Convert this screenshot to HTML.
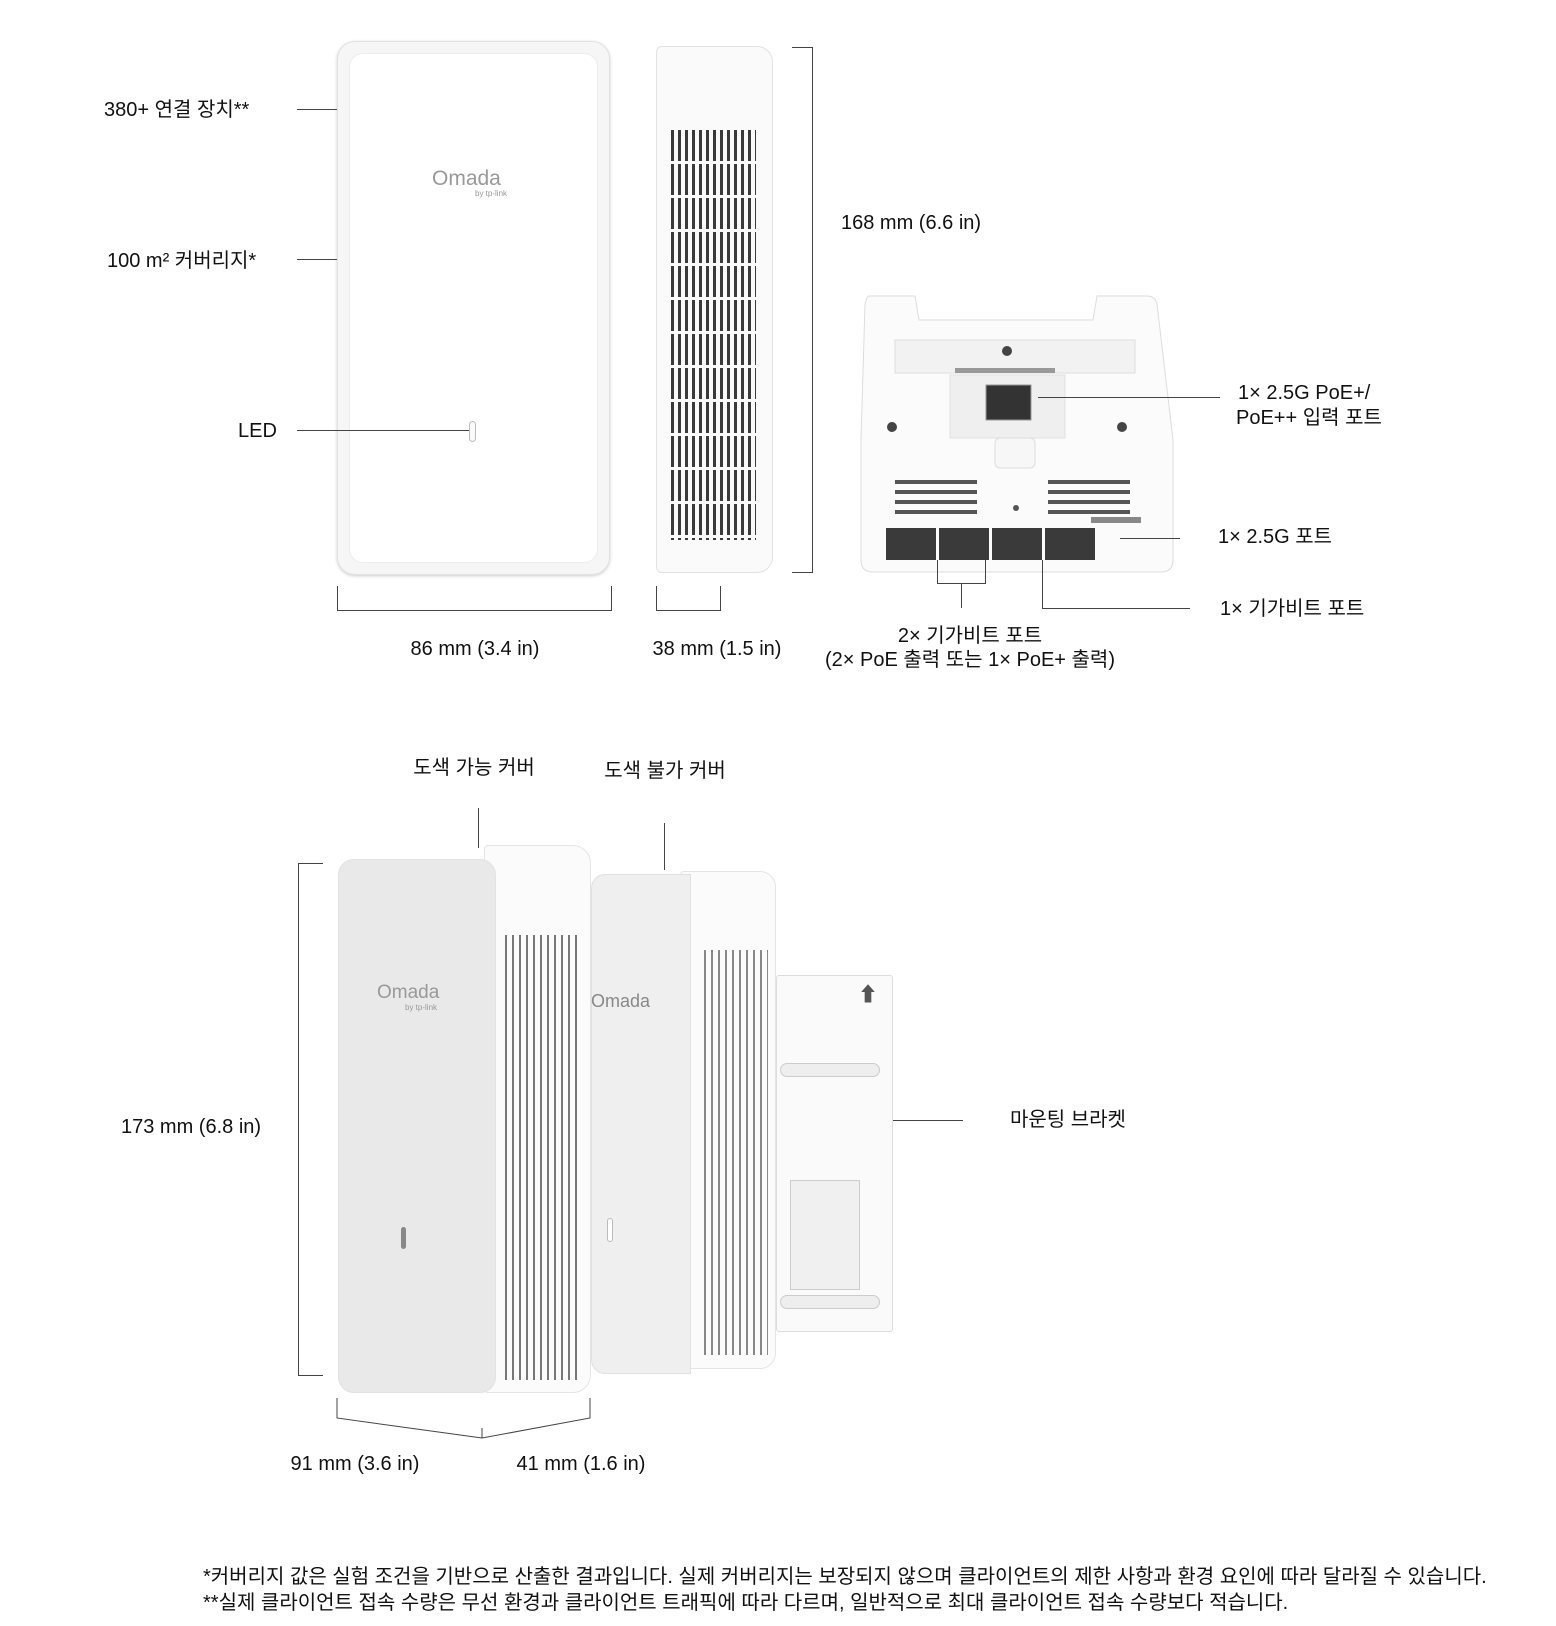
<!DOCTYPE html>
<html><head><meta charset="utf-8">
<style>
body{margin:0;width:1556px;height:1626px;background:#fff;position:relative;overflow:hidden;font-family:"Liberation Sans","Noto Sans CJK KR",sans-serif;color:#111}
.t{position:absolute;font-size:20px;white-space:nowrap;line-height:1}
.c{transform:translateX(-50%);text-align:center}
.l{position:absolute;background:#444}
.a{position:absolute;box-sizing:border-box}
</style></head><body>

<!-- top front device -->
<div class="a" style="left:337px;top:41px;width:273px;height:534px;border-radius:18px;background:#f6f6f6;border:1px solid #e2e2e2;box-shadow:0 1px 3px #ccc"></div>
<div class="a" style="left:349px;top:53px;width:249px;height:510px;border-radius:14px;background:#fff;border:1px solid #ececec"></div>
<div class="t" style="left:432px;top:168px;font-size:21px;color:#999">Omada</div>
<div class="t" style="left:475px;top:190px;font-size:8px;color:#999">by tp-link</div>
<div class="a" style="left:469px;top:421px;width:7px;height:21px;border-radius:4px;border:1px solid #bbb;background:#fafafa"></div>

<!-- side device -->
<div class="a" style="left:656px;top:46px;width:117px;height:527px;border-radius:6px 16px 16px 6px;background:#fafafa;border:1px solid #e2e2e2"></div>
<div class="a" style="left:671px;top:130px;width:85px;height:410px;background:repeating-linear-gradient(90deg,#3a3a3a 0 3px,#fafafa 3px 7px);"></div>
<div class="a" style="left:671px;top:130px;width:85px;height:410px;background:repeating-linear-gradient(180deg,transparent 0 31px,#fafafa 31px 34px);"></div>

<!-- dims top -->
<div class="l" style="left:812px;top:47px;width:1px;height:526px"></div>
<div class="l" style="left:792px;top:47px;width:20px;height:1px"></div>
<div class="l" style="left:792px;top:572px;width:20px;height:1px"></div>
<div class="t" style="left:841px;top:213px">168 mm (6.6 in)</div>
<div class="l" style="left:337px;top:610px;width:275px;height:1px"></div>
<div class="l" style="left:337px;top:586px;width:1px;height:24px"></div>
<div class="l" style="left:611px;top:586px;width:1px;height:24px"></div>
<div class="l" style="left:656px;top:610px;width:65px;height:1px"></div>
<div class="l" style="left:656px;top:586px;width:1px;height:24px"></div>
<div class="l" style="left:720px;top:586px;width:1px;height:24px"></div>
<div class="t c" style="left:475px;top:639px">86 mm (3.4 in)</div>
<div class="t c" style="left:717px;top:639px">38 mm (1.5 in)</div>

<!-- left labels -->
<div class="t" style="left:104px;top:100px">380+ 연결 장치**</div>
<div class="l" style="left:297px;top:109px;width:40px;height:1px"></div>
<div class="t" style="left:107px;top:251px">100 m² 커버리지*</div>
<div class="l" style="left:297px;top:259px;width:40px;height:1px"></div>
<div class="t" style="left:238px;top:421px">LED</div>
<div class="l" style="left:297px;top:430px;width:172px;height:1px"></div>

<!-- bottom/port view -->
<svg class="a" style="left:855px;top:290px" width="325" height="290">
<path d="M14 6 H60 L64 30 H238 L242 6 H292 Q300 6 302 14 L318 150 V270 Q318 282 306 282 H18 Q6 282 6 270 V150 L10 14 Q12 6 14 6Z" fill="#fbfbfb" stroke="#ddd"/>
<rect x="40" y="50" width="240" height="33" fill="#f2f2f2" stroke="#ddd"/>
<rect x="100" y="78" width="100" height="5" fill="#999"/>
<rect x="95" y="85" width="115" height="63" fill="#efefef" stroke="#e0e0e0"/>
<rect x="131" y="95" width="45" height="35" fill="#333" stroke="#999"/>
<circle cx="152" cy="61" r="5" fill="#444"/><circle cx="37" cy="137" r="5" fill="#444"/><circle cx="267" cy="137" r="5" fill="#444"/>
<rect x="140" y="148" width="40" height="30" rx="5" fill="#f7f7f7" stroke="#ddd"/>
<g fill="#555"><rect x="40" y="190" width="82" height="4"/><rect x="40" y="200" width="82" height="4"/><rect x="40" y="210" width="82" height="4"/><rect x="40" y="220" width="82" height="4"/>
<rect x="193" y="190" width="82" height="4"/><rect x="193" y="200" width="82" height="4"/><rect x="193" y="210" width="82" height="4"/><rect x="193" y="220" width="82" height="4"/></g>
<rect x="236" y="227" width="50" height="6" fill="#888"/>
<circle cx="161" cy="218" r="3" fill="#555"/>
<g fill="#3a3a3a"><rect x="31" y="238" width="50" height="32"/><rect x="84" y="238" width="50" height="32"/><rect x="137" y="238" width="50" height="32"/><rect x="190" y="238" width="50" height="32"/></g>
</svg>
<div class="t" style="left:1238px;top:383px">1× 2.5G PoE+/</div>
<div class="t" style="left:1236px;top:408px">PoE++ 입력 포트</div>
<div class="l" style="left:1038px;top:397px;width:182px;height:1px"></div>
<div class="t" style="left:1218px;top:527px">1× 2.5G 포트</div>
<div class="l" style="left:1120px;top:538px;width:60px;height:1px"></div>
<div class="t" style="left:1220px;top:599px">1× 기가비트 포트</div>
<div class="l" style="left:1042px;top:560px;width:1px;height:48px"></div>
<div class="l" style="left:1042px;top:608px;width:148px;height:1px"></div>
<div class="l" style="left:937px;top:560px;width:1px;height:23px"></div>
<div class="l" style="left:985px;top:560px;width:1px;height:23px"></div>
<div class="l" style="left:937px;top:583px;width:49px;height:1px"></div>
<div class="l" style="left:961px;top:583px;width:1px;height:25px"></div>
<div class="t c" style="left:970px;top:626px">2× 기가비트 포트</div>
<div class="t c" style="left:970px;top:650px">(2× PoE 출력 또는 1× PoE+ 출력)</div>

<!-- bottom section -->
<div class="t c" style="left:474px;top:758px">도색 가능 커버</div>
<div class="l" style="left:478px;top:808px;width:1px;height:40px"></div>
<div class="t c" style="left:665px;top:761px">도색 불가 커버</div>
<div class="l" style="left:664px;top:823px;width:1px;height:47px"></div>

<!-- bracket -->
<div class="a" style="left:776px;top:975px;width:117px;height:357px;background:#fafafa;border:1px solid #ddd;border-radius:3px"></div>
<div class="a" style="left:790px;top:1180px;width:70px;height:110px;background:#f0f0f0;border:1px solid #ccc"></div>
<div class="a" style="left:780px;top:1063px;width:100px;height:14px;border-radius:7px;border:1px solid #ccc;background:#eee"></div>
<div class="a" style="left:780px;top:1295px;width:100px;height:14px;border-radius:7px;border:1px solid #ccc;background:#eee"></div>
<div class="t" style="left:858px;top:985px;font-size:20px;color:#555">⬆</div>

<!-- second box -->
<div class="a" style="left:680px;top:871px;width:96px;height:498px;border-radius:4px 16px 16px 4px;background:#fbfbfb;border:1px solid #e4e4e4"></div>
<div class="a" style="left:704px;top:950px;width:64px;height:405px;background:repeating-linear-gradient(90deg,#888 0 2px,#fbfbfb 2px 7px)"></div>
<div class="a" style="left:591px;top:874px;width:100px;height:500px;border-radius:14px 0 0 14px;background:#efefef;border:1px solid #e0e0e0"></div>
<div class="t" style="left:591px;top:992px;font-size:18px;color:#888">Omada</div>
<div class="a" style="left:607px;top:1218px;width:6px;height:24px;border-radius:3px;background:#fff;border:1px solid #bbb"></div>

<!-- front box -->
<div class="a" style="left:484px;top:845px;width:107px;height:548px;border-radius:4px 18px 18px 4px;background:#fbfbfb;border:1px solid #e4e4e4"></div>
<div class="a" style="left:505px;top:935px;width:76px;height:445px;background:repeating-linear-gradient(90deg,#777 0 2px,#fbfbfb 2px 7px)"></div>
<div class="a" style="left:338px;top:859px;width:158px;height:534px;border-radius:16px;background:#e9e9e9;border:1px solid #e2e2e2"></div>
<div class="t" style="left:377px;top:983px;font-size:19px;color:#999">Omada</div>
<div class="t" style="left:405px;top:1004px;font-size:8px;color:#999">by tp-link</div>
<div class="a" style="left:401px;top:1227px;width:5px;height:22px;border-radius:3px;background:#888"></div>

<!-- bottom dims -->
<div class="l" style="left:298px;top:863px;width:1px;height:512px"></div>
<div class="l" style="left:298px;top:863px;width:25px;height:1px"></div>
<div class="l" style="left:298px;top:1375px;width:25px;height:1px"></div>
<div class="t" style="left:121px;top:1117px">173 mm (6.8 in)</div>
<svg class="a" style="left:330px;top:1395px" width="270" height="50"><path d="M7 3 V23 L152 43 L260 23 V3" fill="none" stroke="#444"/><path d="M152 43 V33" stroke="#444"/></svg>
<div class="t c" style="left:355px;top:1454px">91 mm (3.6 in)</div>
<div class="t c" style="left:581px;top:1454px">41 mm (1.6 in)</div>
<div class="t" style="left:1010px;top:1110px">마운팅 브라켓</div>
<div class="l" style="left:893px;top:1120px;width:70px;height:1px"></div>

<div class="t" style="left:203px;top:1567px">*커버리지 값은 실험 조건을 기반으로 산출한 결과입니다. 실제 커버리지는 보장되지 않으며 클라이언트의 제한 사항과 환경 요인에 따라 달라질 수 있습니다.</div>
<div class="t" style="left:203px;top:1593px">**실제 클라이언트 접속 수량은 무선 환경과 클라이언트 트래픽에 따라 다르며, 일반적으로 최대 클라이언트 접속 수량보다 적습니다.</div>
</body></html>
